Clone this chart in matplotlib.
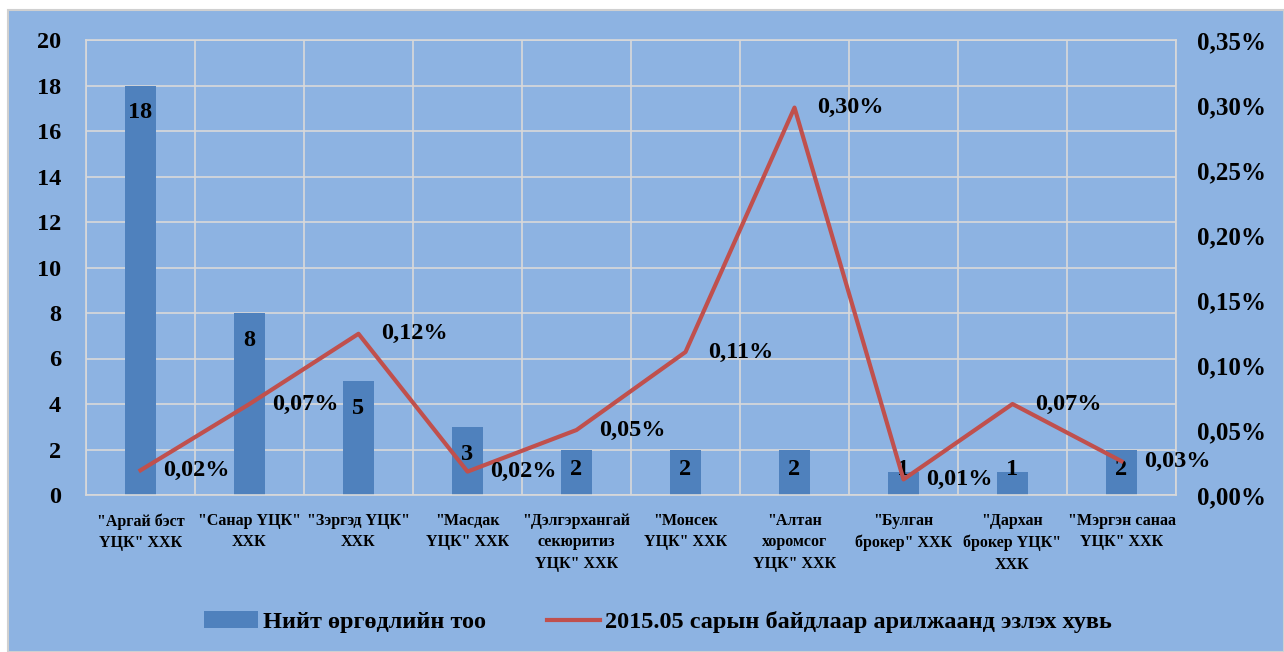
import matplotlib.pyplot as plt
from matplotlib.patches import Rectangle
import numpy as np

plt.rcParams['font.family'] = ['Liberation Serif', 'DejaVu Serif']
plt.rcParams['font.weight'] = 'bold'

# data
companies = ['"Аргай бэст\nҮЦК" ХХК', '"Санар ҮЦК"\nХХК', '"Зэргэд ҮЦК"\nХХК',
             '"Масдак\nҮЦК" ХХК', '"Дэлгэрхангай\nсекюритиз\nҮЦК" ХХК', '"Монсек\nҮЦК" ХХК',
             '"Алтан\nхоромсог\nҮЦК" ХХК', '"Булган\nброкер" ХХК', '"Дархан\nброкер ҮЦК"\nХХК',
             '"Мэргэн санаа\nҮЦК" ХХК']
requests = [18, 8, 5, 3, 2, 2, 2, 1, 1, 2]
share = [0.019, 0.070, 0.124, 0.018, 0.050, 0.110, 0.298, 0.012, 0.070, 0.026]
share_labels = ['0,02%', '0,07%', '0,12%', '0,02%', '0,05%', '0,11%', '0,30%', '0,01%', '0,07%', '0,03%']
bar_name = 'Нийт өргөдлийн тоо'
line_name = '2015.05 сарын байдлаар арилжаанд эзлэх хувь'

bg = '#8DB3E2'
bar_c = '#4F81BD'
line_c = '#C0504D'
grid_c = '#D9D9D9'

fig = plt.figure(figsize=(12.84, 6.52), dpi=100)
fig.patch.set_facecolor('white')
fig.patches.append(Rectangle((8/1284, 0), 1 - 8/1284, 1 - 10/652, transform=fig.transFigure,
                             facecolor=bg, edgecolor='#D0D0D0', lw=1.5, zorder=-10))

ax = fig.add_axes([86/1284, 157/652, 1090/1284, 455/652])
ax.set_facecolor(bg)
x = np.arange(len(companies))
ax.bar(x, requests, width=0.28, color=bar_c, zorder=2, label=bar_name)
ax.set_xlim(-0.5, len(companies) - 0.5)
ax.set_ylim(0, 20)
ax.set_yticks(range(0, 21, 2))
ax.set_xticks(x)
ax.set_xticklabels(companies, fontsize=11.5, linespacing=1.45)
ax.tick_params(axis='x', length=0, pad=13)
ax.tick_params(axis='y', length=0, pad=18, labelsize=17.5)
ax.set_xticks(np.arange(-0.5, len(companies)), minor=True)
ax.grid(True, axis='y', color=grid_c, lw=1.2, zorder=1)
ax.grid(True, axis='x', which='minor', color=grid_c, lw=1.2, zorder=1)
ax.tick_params(axis='x', which='minor', length=0)
for s in ax.spines.values():
    s.set_color(grid_c)
    s.set_linewidth(1.2)

# bar value labels sit just inside the bar top, but never lower than ~1.1
for xi, v in zip(x, requests):
    ax.text(xi, max(v - 1.2, 1.1), str(v), ha='center', va='center',
            fontsize=17.5, fontweight='bold', zorder=4)

ax2 = ax.twinx()
ax2.plot(x, share, color=line_c, lw=3, zorder=3, label=line_name)
ax2.set_ylim(0, 0.35)
ax2.set_yticks(np.arange(0, 0.351, 0.05))
ax2.set_yticklabels([('%.2f%%' % v).replace('.', ',') for v in np.arange(0, 0.351, 0.05)])
ax2.tick_params(axis='y', length=0, pad=15, labelsize=18)
for s in ax2.spines.values():
    s.set_visible(False)
for xi, v, lab in zip(x, share, share_labels):
    ax2.annotate(lab, (xi, v), xytext=(16, 0), textcoords='offset points',
                 ha='left', va='center', fontsize=17.5, fontweight='bold', zorder=4)

h1, l1 = ax.get_legend_handles_labels()
h2, l2 = ax2.get_legend_handles_labels()
fig.legend(h1 + h2, l1 + l2, loc='center', bbox_to_anchor=(658/1284, 1 - 622/652), ncol=2,
           frameon=False, handlelength=2.2, handletextpad=0.2, columnspacing=2.5,
           prop={'weight': 'bold', 'size': 17.5})

fig.savefig('out.png', dpi=100, facecolor=fig.get_facecolor())
